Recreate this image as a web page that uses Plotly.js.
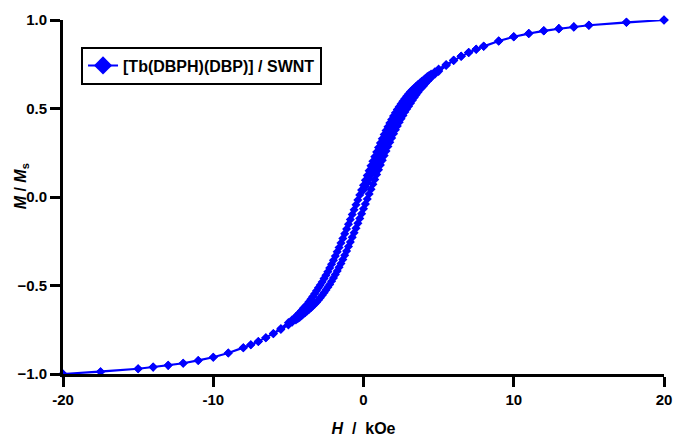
<!DOCTYPE html>
<html>
<head>
<meta charset="utf-8">
<script src="https://cdn.plot.ly/plotly-3.0.1.min.js"></script>
<style>html,body{margin:0;padding:0;background:#fff;}#chart{width:678px;height:439px;}</style>
</head>
<body>
<div id="chart"></div>
<script>
// Initial magnetisation curve (0 -> +20 kOe)
var fieldVirgin = [0,0.125,0.25,0.375,0.5,0.625,0.75,0.875,1,1.125,1.25,1.375,1.5,1.625,1.75,1.875,2,2.125,2.25,2.375,2.5,2.625,2.75,2.875,3,3.125,3.25,3.375,3.5,3.625,3.75,3.875,4,4.25,4.5,5,5.5,6,6.5,7,7.5,8,9,10,11,12,13,14,15,17.5,20];
var momentVirgin = [0.040,0.060,0.080,0.102,0.125,0.148,0.172,0.197,0.222,0.247,0.272,0.297,0.321,0.344,0.367,0.389,0.410,0.430,0.450,0.469,0.487,0.504,0.520,0.535,0.550,0.564,0.577,0.590,0.602,0.614,0.625,0.636,0.646,0.665,0.684,0.717,0.746,0.772,0.795,0.816,0.835,0.852,0.881,0.905,0.924,0.939,0.951,0.961,0.970,0.987,1.000];

// Descending branch (+20 -> -20 kOe)
var fieldDown = [20,17.5,15,14,13,12,11,10,9,8,7.5,7,6.5,6,5.5,5,4.75,
  4.5,4.375,4.25,4.125,4,3.875,3.75,3.625,3.5,3.375,3.25,3.125,3,2.875,2.75,2.625,2.5,2.375,2.25,2.125,2,1.875,1.75,1.625,1.5,1.375,1.25,1.125,1,0.875,0.75,0.625,0.5,0.375,0.25,0.125,0,
  -0.125,-0.25,-0.375,-0.5,-0.625,-0.75,-0.875,-1,-1.125,-1.25,-1.375,-1.5,-1.625,-1.75,-1.875,-2,-2.125,-2.25,-2.375,-2.5,-2.625,-2.75,-2.875,-3,-3.125,-3.25,-3.375,-3.5,-3.625,-3.75,-3.875,-4,-4.125,-4.25,-4.375,-4.5,
  -4.75,-5,-5.5,-6,-6.5,-7,-7.5,-8,-9,-10,-11,-12,-13,-14,-15,-17.5,-20];
var momentDown = [1.000,0.987,0.970,0.961,0.951,0.939,0.924,0.905,0.881,0.852,0.835,0.816,0.795,0.773,0.749,0.723,0.708,
  0.694,0.687,0.680,0.671,0.661,0.653,0.644,0.635,0.625,0.615,0.605,0.594,0.582,0.569,0.555,0.541,0.526,0.510,0.494,0.476,0.457,0.438,0.418,0.397,0.376,0.353,0.329,0.305,0.280,0.254,0.228,0.202,0.176,0.149,0.121,0.094,0.066,
  0.039,0.011,-0.017,-0.044,-0.072,-0.099,-0.127,-0.154,-0.181,-0.207,-0.234,-0.260,-0.285,-0.310,-0.334,-0.358,-0.380,-0.401,-0.422,-0.442,-0.461,-0.480,-0.497,-0.513,-0.530,-0.546,-0.562,-0.577,-0.592,-0.607,-0.618,-0.629,-0.642,-0.654,-0.665,-0.675,
  -0.694,-0.710,-0.743,-0.771,-0.795,-0.816,-0.835,-0.852,-0.881,-0.905,-0.924,-0.939,-0.951,-0.961,-0.970,-0.987,-1.000];

// Ascending branch (-20 -> +20 kOe)
var fieldUp = [-20,-17.5,-15,-14,-13,-12,-11,-10,-9,-8,-7.5,-7,-6.5,-6,-5.5,-5,-4.75,
  -4.5,-4.375,-4.25,-4.125,-4,-3.875,-3.75,-3.625,-3.5,-3.375,-3.25,-3.125,-3,-2.875,-2.75,-2.625,-2.5,-2.375,-2.25,-2.125,-2,-1.875,-1.75,-1.625,-1.5,-1.375,-1.25,-1.125,-1,-0.875,-0.75,-0.625,-0.5,-0.375,-0.25,-0.125,0,
  0.125,0.25,0.375,0.5,0.625,0.75,0.875,1,1.125,1.25,1.375,1.5,1.625,1.75,1.875,2,2.125,2.25,2.375,2.5,2.625,2.75,2.875,3,3.125,3.25,3.375,3.5,3.625,3.75,3.875,4,4.125,4.25,4.375,4.5,
  4.75,5,5.5,6,6.5,7,7.5,8,9,10,11,12,13,14,15,17.5,20];
var momentUp = [-1.000,-0.987,-0.970,-0.961,-0.951,-0.939,-0.924,-0.905,-0.881,-0.852,-0.835,-0.816,-0.795,-0.773,-0.749,-0.723,-0.708,
  -0.694,-0.687,-0.680,-0.671,-0.661,-0.653,-0.644,-0.635,-0.625,-0.615,-0.605,-0.594,-0.582,-0.569,-0.555,-0.541,-0.526,-0.510,-0.494,-0.476,-0.457,-0.438,-0.418,-0.397,-0.376,-0.353,-0.329,-0.305,-0.280,-0.254,-0.228,-0.202,-0.176,-0.149,-0.121,-0.094,-0.066,
  -0.039,-0.011,0.017,0.044,0.072,0.099,0.127,0.154,0.181,0.207,0.234,0.260,0.285,0.310,0.334,0.358,0.380,0.401,0.422,0.442,0.461,0.480,0.497,0.513,0.530,0.546,0.562,0.577,0.592,0.607,0.618,0.629,0.642,0.654,0.665,0.675,
  0.694,0.710,0.743,0.771,0.795,0.816,0.835,0.852,0.881,0.905,0.924,0.939,0.951,0.961,0.970,0.987,1.000];

var seriesName = '[Tb(DBPH)(DBP)] / SWNT';
var xTicks = [-20,-10,0,10,20];
var yTicks = [-1.0,-0.5,0.0,0.5,1.0];

var blue = '#0000ff';
var fontFamily = 'Liberation Sans, Arial, sans-serif';

var loopTrace = {
  type: 'scatter',
  mode: 'lines+markers',
  name: seriesName,
  showlegend: false,
  x: fieldVirgin.concat(fieldDown, fieldUp),
  y: momentVirgin.concat(momentDown, momentUp),
  line: {color: blue, width: 2},
  marker: {symbol: 'diamond', size: 7, color: blue},
  cliponaxis: false
};

// legend-only entry (no data drawn) so the key shows a large diamond on a thin line
var legendTrace = {
  type: 'scatter',
  mode: 'lines+markers',
  name: seriesName,
  x: [null], y: [null],
  line: {color: blue, width: 2},
  marker: {symbol: 'diamond', size: 14, color: blue}
};

var tickFont = {family: fontFamily, size: 15, color: '#000', weight: 'bold'};

var layout = {
  width: 678, height: 439,
  margin: {l: 63, r: 14, t: 20, b: 65},
  paper_bgcolor: '#fff', plot_bgcolor: '#fff',
  showlegend: true,
  legend: {
    x: 0.03, y: 0.925, xanchor: 'left', yanchor: 'top',
    bordercolor: '#000', borderwidth: 2, bgcolor: '#fff',
    font: {family: fontFamily, size: 16, color: '#000', weight: 'bold'}
  },
  xaxis: {
    range: [-20, 20], tickvals: xTicks, ticktext: xTicks.map(String),
    showline: true, linewidth: 3, linecolor: '#000',
    ticks: 'outside', ticklen: 10, tickwidth: 3, tickcolor: '#000',
    showgrid: false, zeroline: false, tickfont: tickFont,
    title: {text: '<i>H</i>&nbsp;&nbsp;/&nbsp;&nbsp;kOe', font: {family: fontFamily, size: 16, color: '#000', weight: 'bold'}, standoff: 16}
  },
  yaxis: {
    range: [-1, 1], tickvals: yTicks, tickformat: '.1f',
    showline: true, linewidth: 3, linecolor: '#000',
    ticks: 'outside', ticklen: 10, tickwidth: 3, tickcolor: '#000',
    showgrid: false, zeroline: false, tickfont: tickFont
  },
  annotations: [{
    text: '<i>M</i> / <i>M</i><sub>s</sub>', textangle: -90,
    xref: 'paper', yref: 'paper', x: -0.07, y: 0.53,
    xanchor: 'center', yanchor: 'middle', showarrow: false,
    font: {family: fontFamily, size: 16, color: '#000', weight: 'bold'}
  }]
};

Plotly.newPlot('chart', [loopTrace, legendTrace], layout, {displayModeBar: false, staticPlot: true});
</script>
</body>
</html>
